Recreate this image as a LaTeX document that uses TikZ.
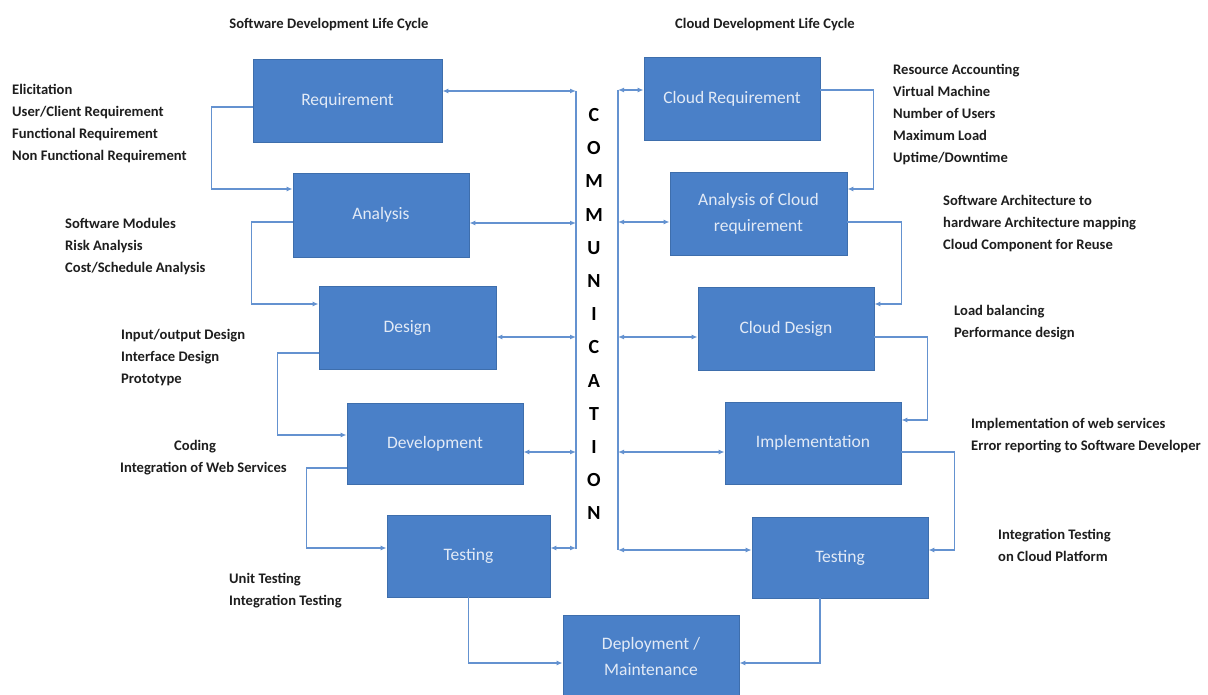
\documentclass[tikz,border=0pt]{standalone}
\usepackage{fontspec}
\setmainfont{Carlito}
\usetikzlibrary{arrows.meta}
\definecolor{boxfill}{RGB}{74,128,200}
\definecolor{boxline}{RGB}{62,110,172}
\definecolor{connc}{RGB}{100,146,208}
\definecolor{boxtext}{RGB}{226,234,246}
\definecolor{labeltext}{RGB}{30,30,30}
\begin{document}
\begin{tikzpicture}[x=1pt,y=-1pt,
  stagebox/.style={draw=boxline, line width=0.8pt, fill=boxfill, text=boxtext,
    font=\fontsize{17.5}{26}\selectfont, align=center, inner sep=0pt, minimum height=83pt},
  note/.style={text=labeltext, font=\fontsize{14.6}{22}\selectfont\bfseries, align=left, inner sep=0pt, anchor=west},
  heading/.style={text=labeltext, font=\fontsize{14.6}{16}\selectfont\bfseries, inner sep=0pt},
  flow/.style={draw=connc, line width=1.2pt, -{Latex[length=6pt,width=5pt]}},
  talk/.style={draw=connc, line width=1.2pt, {Latex[length=6pt,width=5pt]}-{Latex[length=6pt,width=5pt]}},
  vline/.style={draw=connc, line width=1.2pt},
  letter/.style={text=black, font=\fontsize{20}{20}\selectfont\bfseries, inner sep=0pt}
]
\useasboundingbox (0,0) rectangle (1208,695);
\fill[white] (0,0) rectangle (1208,695);

% titles
\node[heading] (t1) at (329,25) {Software Development Life Cycle};
\node[heading] (t2) at (765,25) {Cloud Development Life Cycle};

% left stages
\node[stagebox, minimum width=189pt] (req) at (347.5,100.5) {Requirement};
\node[stagebox, minimum width=176pt, minimum height=84pt] (ana) at (381,215) {Analysis};
\node[stagebox, minimum width=177pt] (des) at (407.5,328) {Design};
\node[stagebox, minimum width=176pt, minimum height=81pt] (dev) at (435,443.5) {Development};
\node[stagebox, minimum width=163pt, minimum height=82pt] (tst) at (468.5,556) {Testing};

% right stages
\node[stagebox, minimum width=176pt] (creq) at (732,98.5) {Cloud Requirement};
\node[stagebox, minimum width=177pt] (acr) at (758.5,213.5) {Analysis of Cloud\\requirement};
\node[stagebox, minimum width=176pt] (cdes) at (786,328.5) {Cloud Design};
\node[stagebox, minimum width=176pt, minimum height=82pt] (impl) at (813,443) {Implementation};
\node[stagebox, minimum width=176pt, minimum height=81pt] (ctst) at (840,557.5) {Testing};

% bottom
\node[stagebox, minimum width=176pt] (dep) at (651,656.5) {Deployment /\\Maintenance};

% communication bars
\coordinate (lt) at (576,91);
\coordinate (lb) at (576,549);
\coordinate (rt) at (618,90);
\coordinate (rb) at (618,550);
\draw[vline] (lt) -- (lb);
\draw[vline] (rt) -- (rb);
\foreach \ch [count=\i from 0] in {C,O,M,M,U,N,I,C,A,T,I,O,N}
  \node[letter] (cm\i) at (594,115+33.2*\i) {\ch};

% communication arrows, left
\path ([yshift=9.5pt]req.east) coordinate (reqE);
\path ([yshift=-8pt]ana.east) coordinate (anaE);
\path ([yshift=-9pt]des.east) coordinate (desE);
\path ([yshift=-8.5pt]dev.east) coordinate (devE);
\path ([yshift=8pt]tst.east) coordinate (tstE);
\foreach \p in {reqE,anaE,desE,devE,tstE}
  \draw[talk] (\p) -- (\p -| lt);

% communication arrows, right
\path ([yshift=8.5pt]creq.west) coordinate (creqW);
\path ([yshift=-8.5pt]acr.west) coordinate (acrW);
\path ([yshift=-8.5pt]cdes.west) coordinate (cdesW);
\path ([yshift=-9pt]impl.west) coordinate (implW);
\path ([yshift=7.5pt]ctst.west) coordinate (ctstW);
\foreach \p in {creqW,acrW,cdesW,implW,ctstW}
  \draw[talk] (\p -| rt) -- (\p);

% left flow
\draw[flow] ([yshift=-6.5pt]req.west) -- ++(-41,0) |- ([yshift=26pt]ana.west);
\draw[flow] ([yshift=-7pt]ana.west) -- ++(-41,0) |- ([yshift=24pt]des.west);
\draw[flow] ([yshift=-25pt]des.west) -- ++(-41,0) |- ([yshift=8.5pt]dev.west);
\draw[flow] ([yshift=-24.5pt]dev.west) -- ++(-40,0) |- ([yshift=8pt]tst.west);
\draw[flow] (tst.south) |- ([yshift=-6.5pt]dep.west);

% right flow
\draw[flow] ([yshift=8.5pt]creq.east) -- ++(53,0) |- ([yshift=24.5pt]acr.east);
\draw[flow] ([yshift=-8.5pt]acr.east) -- ++(54,0) |- ([yshift=24.5pt]cdes.east);
\draw[flow] ([yshift=-8.5pt]cdes.east) -- ++(53,0) |- ([yshift=23pt]impl.east);
\draw[flow] ([yshift=-9pt]impl.east) -- ++(53,0) |- ([yshift=7.5pt]ctst.east);
\draw[flow] ([xshift=-20pt]ctst.south) |- ([yshift=-6.5pt]dep.east);

% notes left
\node[note] (n1) at (12,124) {Elicitation\\User/Client Requirement\\Functional Requirement\\Non Functional Requirement};
\node[note] (n2) at (65,246.5) {Software Modules\\Risk Analysis\\Cost/Schedule Analysis};
\node[note] (n3) at (121,357.5) {Input/output Design\\Interface Design\\Prototype};
\node[note] (n4) at (120,458) {\hspace*{54pt}Coding\\Integration of Web Services};
\node[note] (n5) at (229,590.5) {Unit Testing\\Integration Testing};

% notes right
\node[note] (m1) at (893,114.5) {Resource Accounting\\Virtual Machine\\Number of Users\\Maximum Load\\Uptime/Downtime};
\node[note] (m2) at (943,224) {Software Architecture to\\hardware Architecture mapping\\Cloud Component for Reuse};
\node[note] (m3) at (954,322.5) {Load balancing\\Performance design};
\node[note] (m4) at (971,435.5) {Implementation of web services\\Error reporting to Software Developer};
\node[note] (m5) at (998,545.5) {Integration Testing\\on Cloud Platform};
\end{tikzpicture}
\end{document}
